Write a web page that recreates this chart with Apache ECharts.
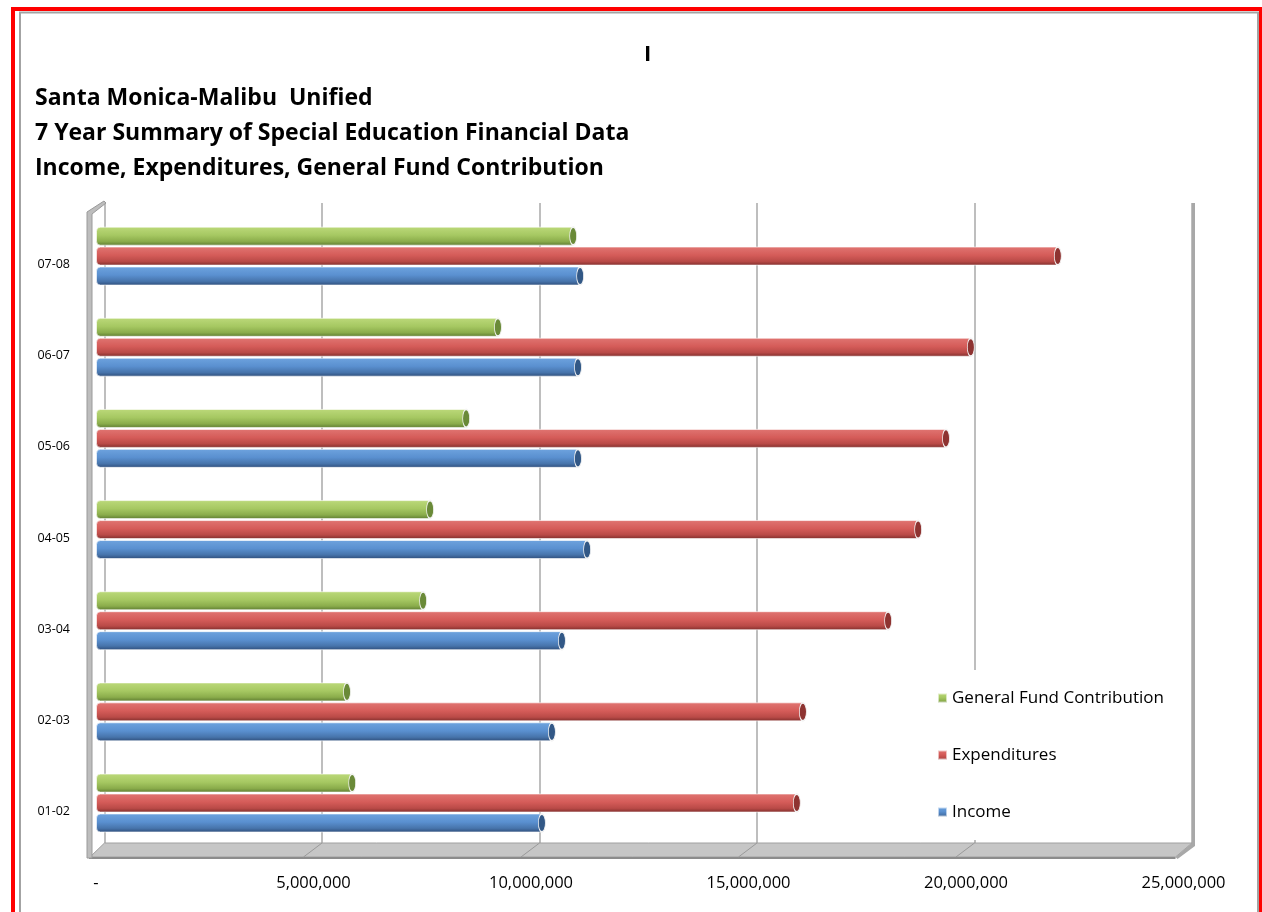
<!DOCTYPE html>
<html>
<head>
<meta charset="utf-8">
<script src="https://cdn.jsdelivr.net/npm/echarts@6/dist/echarts.min.js"></script>
<style>
  html, body { margin: 0; padding: 0; background: #fff; }
  #chart { width: 1262px; height: 912px; }
</style>
</head>
<body>
<div id="chart"></div>
<script>
const years = ['01-02', '02-03', '03-04', '04-05', '05-06', '06-07', '07-08'];
const income = [10250000, 10480000, 10710000, 11290000, 11080000, 11080000, 11130000];
const expenditures = [16110000, 16250000, 18210000, 18900000, 19540000, 20110000, 22110000];
const generalFund = [5890000, 5770000, 7520000, 7680000, 8510000, 9240000, 10970000];
const legendNames = ['General Fund Contribution', 'Expenditures', 'Income'];
const xTicks = [0, 5000000, 10000000, 15000000, 20000000, 25000000];

const chart = echarts.init(document.getElementById('chart'));
window.onresize = function () {
    chart.resize();
};

// vertical gradient to fake the cylinder look
function tube(light, mid, dark, edge) {
    return new echarts.graphic.LinearGradient(0, 0, 0, 1, [
        { offset: 0, color: light },
        { offset: 0.45, color: mid },
        { offset: 0.78, color: dark },
        { offset: 1, color: edge }
    ]);
}

const font = '"Open Sans", Lato, sans-serif';

function barSeries(name, data, fill) {
    return {
        name: name,
        type: 'bar',
        data: data,
        barWidth: 19,
        barGap: '5%',
        itemStyle: {
            color: fill,
            borderColor: 'rgba(255,255,255,0.6)',
            borderWidth: 1,
            borderRadius: [4, 0, 0, 4]
        },
        z: 3
    };
}

// ellipse end caps of each tube
function capSeries(name, data, color, offsetY) {
    return {
        name: name,
        type: 'scatter',
        data: data.map(function (v, i) { return [v, years[i]]; }),
        symbol: 'circle',
        symbolSize: [7, 18],
        symbolOffset: [0, offsetY],
        itemStyle: { color: color, borderColor: '#f4f4f4', borderWidth: 1.2, opacity: 1 },
        z: 4,
        silent: true
    };
}

// 3D floor and walls
const floorY = 843, frontY = 857, backX0 = 104.5, frontX0 = 90, step = 217.5;
const backEnd = backX0 + 5 * step, frontEnd = frontX0 + 5 * step - 2;
const deco = [
    { type: 'rect', shape: { x: 13, y: 9, width: 1248, height: 920 }, style: { fill: 'none', stroke: '#ff0000', lineWidth: 4 }, z: 10 },
    { type: 'rect', shape: { x: 20, y: 12.5, width: 1238, height: 920 }, style: { fill: 'none', stroke: '#a3a3a3', lineWidth: 2 }, z: 10 },
    { type: 'polygon', shape: { points: [[frontX0, frontY], [backX0, floorY], [backEnd, floorY], [frontEnd, frontY]] },
      style: { fill: '#c6c6c6', stroke: '#a0a0a0', lineWidth: 1 }, z: 1 },
    { type: 'line', shape: { x1: frontX0 - 1, y1: frontY + 1, x2: frontEnd, y2: frontY + 1 }, style: { stroke: '#8c8c8c', lineWidth: 2 }, z: 1 },
    { type: 'polygon', shape: { points: [[87, 212], [104, 201], [106, 203], [92, 214], [92, 858], [87, 858]] },
      style: { fill: '#bdbdbd', stroke: '#9a9a9a', lineWidth: 1 }, z: 1 },
    { type: 'polygon', shape: { points: [[backEnd, floorY], [backEnd + 3, floorY - 2], [backEnd + 3, floorY + 3], [frontEnd + 2, frontY + 2], [frontEnd, frontY]] },
      style: { fill: '#a8a8a8' }, z: 1 },
    { type: 'line', shape: { x1: backEnd + 1.5, y1: 203, x2: backEnd + 1.5, y2: floorY }, style: { stroke: '#a8a8a8', lineWidth: 3 }, z: 1 }
];
for (let k = 1; k < 5; k++) {
    deco.push({ type: 'line', shape: { x1: backX0 + k * step, y1: floorY, x2: frontX0 + k * step - 4, y2: frontY },
        style: { stroke: '#9a9a9a', lineWidth: 1 }, z: 1 });
}

const option = {
    backgroundColor: '#ffffff',
    animation: false,
    title: [
        {
            text: 'I',
            left: 639,
            top: 39,
            textStyle: { fontFamily: font, fontSize: 22, fontWeight: 'bold', color: '#000' }
        },
        {
            text: 'Santa Monica-Malibu  Unified\n7 Year Summary of Special Education Financial Data\nIncome, Expenditures, General Fund Contribution',
            left: 30,
            top: 76,
            textStyle: { fontFamily: font, fontSize: 23, fontWeight: 'bold', lineHeight: 35, color: '#000' }
        }
    ],
    legend: {
        data: legendNames,
        orient: 'vertical',
        left: 920,
        top: 670,
        padding: [18, 20, 18, 17],
        backgroundColor: '#ffffff',
        itemWidth: 9,
        itemHeight: 9,
        itemGap: 37,
        icon: 'rect',
        textStyle: { fontFamily: font, fontSize: 17, lineHeight: 20, color: '#000' }
    },
    grid: [
        { left: 96, right: 78.5, top: 210.5, bottom: 63.4 },
        { left: 104.5, right: 70, top: 203, bottom: 69 }
    ],
    xAxis: [
        {
            type: 'value',
            gridIndex: 0,
            min: xTicks[0],
            max: xTicks[xTicks.length - 1],
            interval: 5000000,
            axisLine: { show: false },
            axisTick: { show: false },
            splitLine: { show: false },
            axisLabel: {
                margin: 26,
                fontFamily: font,
                fontSize: 16.5,
                color: '#000',
                formatter: function (v) {
                    return v === 0 ? '-' : v.toLocaleString('en-US');
                }
            }
        },
        {
            type: 'value',
            gridIndex: 1,
            min: xTicks[0],
            max: xTicks[xTicks.length - 1],
            interval: 5000000,
            axisLine: { show: false },
            axisTick: { show: false },
            axisLabel: { show: false },
            splitLine: { show: true, lineStyle: { color: '#a8a8a8', width: 1.5 } }
        }
    ],
    yAxis: [
        {
            type: 'category',
            gridIndex: 0,
            data: years,
            axisLine: { show: false },
            axisTick: { show: false },
            axisLabel: {
                margin: 26,
                verticalAlign: 'top',
                lineHeight: 17,
                fontFamily: font,
                fontSize: 12.5,
                color: '#000'
            }
        },
        {
            type: 'value',
            gridIndex: 1,
            min: 0,
            max: 1,
            show: false
        }
    ],
    series: [
        barSeries('General Fund Contribution', generalFund, tube('#bcd97a', '#a6c862', '#8aac4b', '#5c7a30')),
        barSeries('Expenditures', expenditures, tube('#e07572', '#d55c59', '#b94a47', '#7d2d2b')),
        barSeries('Income', income, tube('#6ea3de', '#5a90d0', '#4774ab', '#2e4c78')),
        capSeries('General Fund Contribution', generalFund, '#6a8a38', -20),
        capSeries('Expenditures', expenditures, '#8e3331', 0),
        capSeries('Income', income, '#325886', 20)
    ],
    graphic: deco
};

chart.setOption(option);
</script>
</body>
</html>
